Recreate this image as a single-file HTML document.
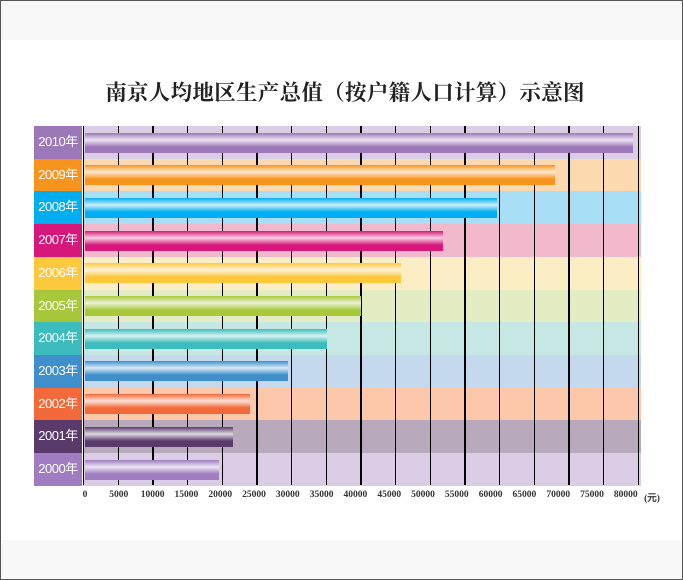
<!DOCTYPE html>
<html><head><meta charset="utf-8"><style>
body{margin:0;width:683px;height:580px;position:relative;background:#fff;overflow:hidden;font-family:"Liberation Sans","Noto Sans CJK SC",sans-serif}
.b{position:absolute}
.title{position:absolute;left:100px;top:76px;width:490px;text-align:center;font-family:"Liberation Serif","Noto Serif CJK SC",serif;font-weight:bold;font-size:21.5px;color:#222;white-space:nowrap;letter-spacing:0.3px}
.lab{position:absolute;left:34px;width:48px;color:#fff;font-size:13px;text-align:center;letter-spacing:-0.5px}
.row{position:absolute;left:83px;width:558px}
.bar{position:absolute;left:85px;height:20px;z-index:2}
.vl{position:absolute;top:126px;height:359px;width:1.3px;background:#000}
.tk{position:absolute;top:490px;font-family:"Liberation Serif",serif;font-weight:bold;font-size:9.5px;color:#333;transform:translateX(-50%);white-space:nowrap}
</style></head><body>
<div class="b" style="left:0;top:0;width:683px;height:40px;background:#f8f8f8"></div>
<div class="b" style="left:0;top:540px;width:683px;height:40px;background:#f8f8f8"></div>
<div class="b" style="left:0;top:0;width:681px;height:578px;border:1px solid #555"></div>
<div class="title">南京人均地区生产总值（按户籍人口计算）示意图</div>
<div id="c"></div>
<script>
var d=[["2010年","#9d78b8","#dccde6",633],["2009年","#f7941d","#fdd9b0",555],["2008年","#00aeef","#a8dff6",497],["2007年","#d6187a","#f2b8cc",443],["2006年","#fdc83c","#fbedc4",401],["2005年","#a6c83a","#e3ecc2",361],["2004年","#3cbcbc","#c6e8e5",327],["2003年","#3e8fcc","#c4d9ee",288],["2002年","#f26a3a","#fdc8aa",250],["2001年","#5a3a6b","#b8a9bd",233],["2000年","#a07cc0","#dccde6",219]];
var h="",rh=32.7;
d.forEach(function(r,i){var t=126+i*rh;
h+='<div class="row" style="top:'+t+'px;height:'+(rh+0.5)+'px;background:'+r[2]+'"></div>';
h+='<div class="lab" style="top:'+t+'px;height:'+(rh+0.5)+'px;line-height:'+rh+'px;background:'+r[1]+'">'+r[0]+'</div>';});
for(var k=0;k<=16;k++){h+='<div class="vl" style="left:'+(83+k*34.67)+'px"></div>';
h+='<div class="tk" style="left:'+(k==0?85:(85+k*33.8))+'px">'+(k*5000)+'</div>';}
h+='<div class="tk" style="left:652px">(元)</div>';
d.forEach(function(r,i){var t=126+i*rh+6.5;
h+='<div class="bar" style="top:'+t+'px;width:'+(r[3]-85)+'px;background:'+r[1]+';"><div style="position:absolute;inset:0;background:linear-gradient(to bottom,rgba(255,255,255,0) 0%,rgba(255,255,255,0.8) 35%,rgba(255,255,255,0) 70%)"></div></div>';});
document.getElementById("c").innerHTML=h;
</script>
</body></html>
